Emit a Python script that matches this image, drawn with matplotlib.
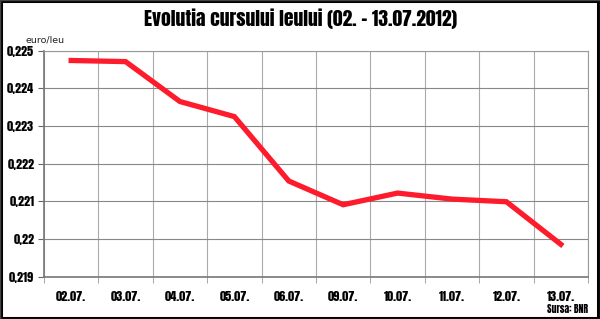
import matplotlib.pyplot as plt
from matplotlib.patches import Rectangle

# date si valori (euro/leu)
zile = ['02.07.', '03.07.', '04.07.', '05.07.', '06.07.',
        '09.07.', '10.07.', '11.07.', '12.07.', '13.07.']
curs = [0.22474, 0.22471, 0.22365, 0.22325, 0.22154,
        0.22091, 0.22122, 0.22106, 0.22099, 0.21986]
y_ticks = [0.219, 0.220, 0.221, 0.222, 0.223, 0.224, 0.225]
y_labels = ['0,219', '0,22', '0,221', '0,222', '0,223', '0,224', '0,225']

bold_font = ['Anton', 'DejaVu Sans']

fig = plt.figure(figsize=(6, 3.19), dpi=100)
ax = fig.add_axes([0.0733, 0.1326, 0.9067, 0.7085])

x = list(range(len(zile)))
ax.plot(x, curs, color='#fe1b2c', linewidth=3.8, solid_joinstyle='miter', zorder=3)

ax.set_xlim(-0.5, len(zile) - 0.5)
ax.set_ylim(0.219, 0.225)

ax.set_xticks(x)
ax.set_xticklabels(zile, fontfamily=bold_font, fontsize=8.8)
ax.set_xticks([i - 0.5 for i in range(len(zile) + 1)], minor=True)
ax.tick_params(axis='x', which='major', length=0, pad=10)
ax.tick_params(axis='x', which='minor', length=4, color='#999999')

ax.set_yticks(y_ticks)
ax.set_yticklabels(y_labels, fontfamily=bold_font, fontsize=8.8)
ax.tick_params(axis='y', length=4, color='#666666', pad=3)

ax.grid(axis='y', which='major', color='#888888', linewidth=0.8)
ax.grid(axis='x', which='minor', color='#aaaaaa', linewidth=0.8)
ax.set_axisbelow(True)

for s in ['left', 'bottom']:
    ax.spines[s].set_color('#777777')
    ax.spines[s].set_linewidth(1.2)
for s in ['top', 'right']:
    ax.spines[s].set_color('#999999')
    ax.spines[s].set_linewidth(0.8)

fig.text(0.5, 0.92, 'Evolutia cursului leului (02. - 13.07.2012)',
         ha='center', va='baseline', fontsize=14, fontfamily=bold_font)
fig.text(0.043, 0.874, 'euro/leu', ha='left', va='center', fontsize=6.8, color='#222222')
fig.text(0.98, 0.03, 'Sursa: BNR', ha='right', va='center', fontsize=7,
         fontfamily=bold_font)

# chenar negru
fig.patches.append(Rectangle((0.002, 0.004), 0.994, 0.992, transform=fig.transFigure,
                             fill=False, edgecolor='black', linewidth=2.2))
fig.patches.append(Rectangle((0.0, 0.0), 1.0, 1.0, transform=fig.transFigure,
                             fill=False, edgecolor='#444444', linewidth=1.0))

fig.savefig('out.png', dpi=100, facecolor='white')
